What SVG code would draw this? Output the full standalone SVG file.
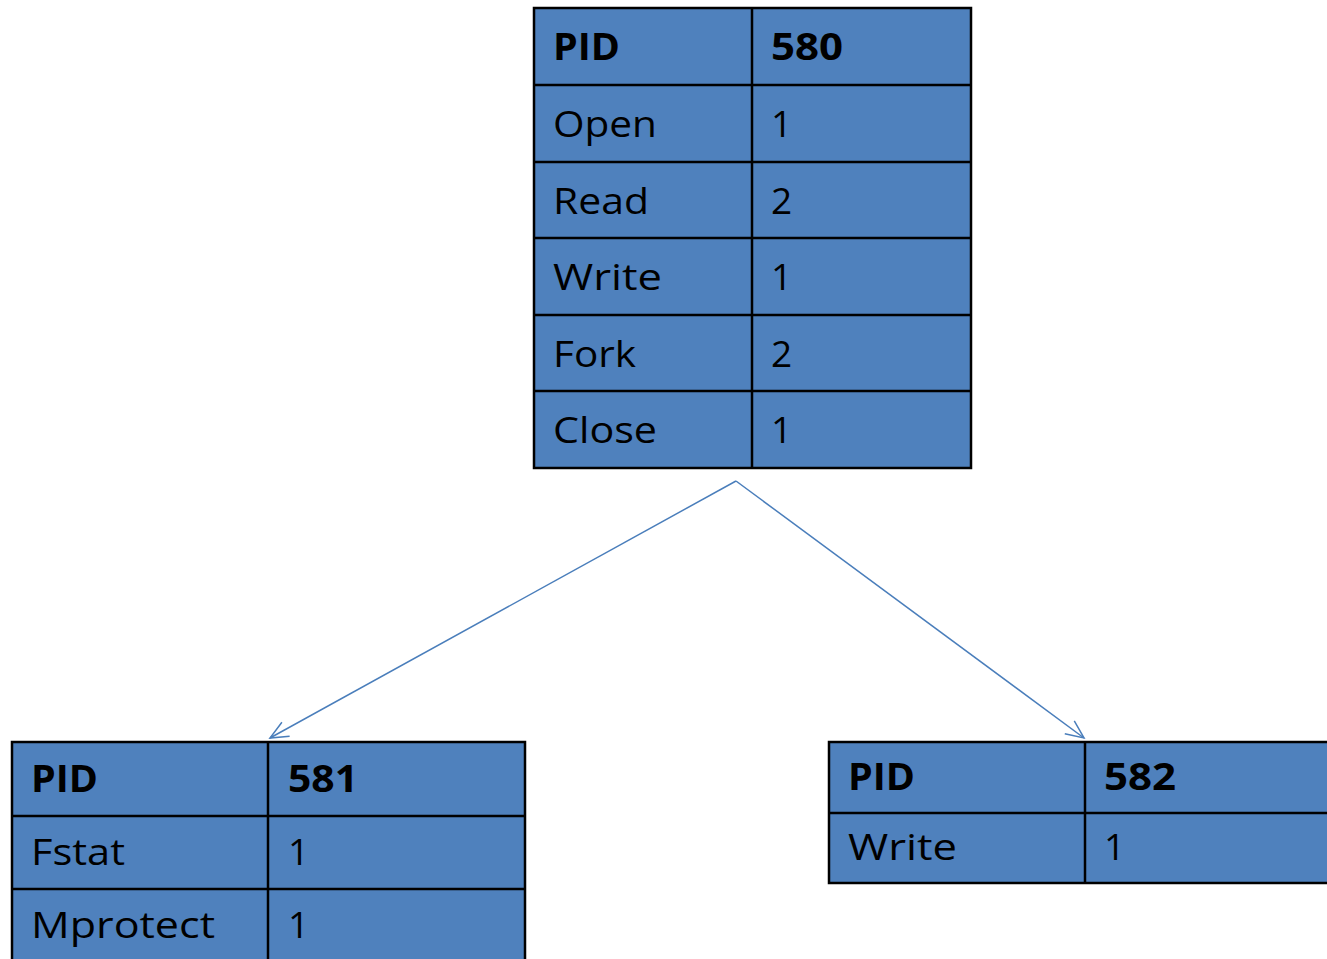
<svg xmlns="http://www.w3.org/2000/svg" width="1327" height="959" viewBox="0 0 1327 959">
<style>
.cell{fill:#4f81bd;stroke:#000;stroke-width:2.5}
.ln{stroke:#000;stroke-width:2.5}
text{font-family:"Open Sans","Liberation Sans",sans-serif;font-size:37px;fill:#000}
.b{font-weight:bold}
.conn{stroke:#4a7ebb;stroke-width:1.5;fill:none}
</style>
<defs>
<marker id="arr" markerUnits="userSpaceOnUse" markerWidth="24" markerHeight="24" viewBox="0 0 24 24" refX="21" refY="12" orient="auto">
<path d="M3,4 L21,12 L3,20" fill="none" stroke="#4a7ebb" stroke-width="1.5"/>
</marker>
</defs>
<rect width="1327" height="959" fill="#fff"/>
<g id="table580">
<rect class="cell" x="534" y="8" width="437" height="460"/>
<line class="ln" x1="752" y1="8" x2="752" y2="468"/>
<line class="ln" x1="534" y1="85" x2="971" y2="85"/>
<line class="ln" x1="534" y1="162" x2="971" y2="162"/>
<line class="ln" x1="534" y1="238" x2="971" y2="238"/>
<line class="ln" x1="534" y1="315" x2="971" y2="315"/>
<line class="ln" x1="534" y1="391" x2="971" y2="391"/>
<text class="b" x="553" y="60" textLength="67" lengthAdjust="spacingAndGlyphs">PID</text>
<text class="b" x="771" y="60" textLength="72" lengthAdjust="spacingAndGlyphs">580</text>
<text x="553" y="137" textLength="104" lengthAdjust="spacingAndGlyphs">Open</text>
<text x="771" y="137">1</text>
<text x="553" y="214" textLength="96" lengthAdjust="spacingAndGlyphs">Read</text>
<text x="771" y="214">2</text>
<text x="553" y="290" textLength="109" lengthAdjust="spacingAndGlyphs">Write</text>
<text x="771" y="290">1</text>
<text x="553" y="367" textLength="83" lengthAdjust="spacingAndGlyphs">Fork</text>
<text x="771" y="367">2</text>
<text x="553" y="443" textLength="104" lengthAdjust="spacingAndGlyphs">Close</text>
<text x="771" y="443">1</text>
</g>
<g id="table581">
<rect class="cell" x="12" y="742" width="513" height="225"/>
<line class="ln" x1="268" y1="742" x2="268" y2="967"/>
<line class="ln" x1="12" y1="816" x2="525" y2="816"/>
<line class="ln" x1="12" y1="889" x2="525" y2="889"/>
<text class="b" x="31" y="792" textLength="67" lengthAdjust="spacingAndGlyphs">PID</text>
<text class="b" x="288" y="792" textLength="70" lengthAdjust="spacingAndGlyphs">581</text>
<text x="31" y="865" textLength="94" lengthAdjust="spacingAndGlyphs">Fstat</text>
<text x="288" y="865">1</text>
<text x="31" y="938" textLength="184" lengthAdjust="spacingAndGlyphs">Mprotect</text>
<text x="288" y="938">1</text>
</g>
<g id="table582">
<rect class="cell" x="829" y="742" width="510" height="141"/>
<line class="ln" x1="1085" y1="742" x2="1085" y2="883"/>
<line class="ln" x1="829" y1="813" x2="1339" y2="813"/>
<text class="b" x="848" y="790" textLength="67" lengthAdjust="spacingAndGlyphs">PID</text>
<text class="b" x="1104" y="790" textLength="72" lengthAdjust="spacingAndGlyphs">582</text>
<text x="848" y="860" textLength="109" lengthAdjust="spacingAndGlyphs">Write</text>
<text x="1104" y="860">1</text>
</g>
<g id="connectors">
<path class="conn" d="M736,481 L270,738" marker-end="url(#arr)"/>
<path class="conn" d="M736,481 L1084,738" marker-end="url(#arr)"/>
</g>
</svg>
